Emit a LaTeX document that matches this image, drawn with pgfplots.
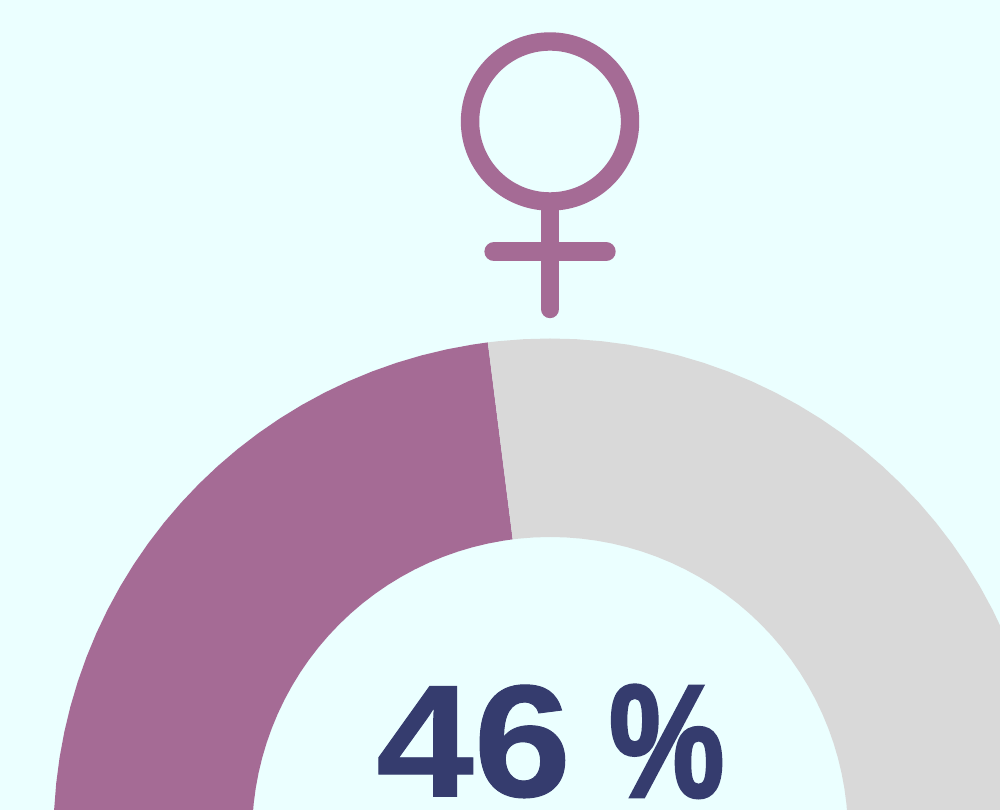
\documentclass[border=0pt]{standalone}
\usepackage{pgfplots}
\pgfplotsset{compat=1.18}
\usepackage{fontspec}
\setmainfont{Liberation Sans}
\newfontfamily\numfont[BoldFont={*},BoldFeatures={FakeBold=0.6}]{Liberation Sans Bold}
\newfontfamily\pctfont[BoldFont={*},BoldFeatures={FakeBold=2.2}]{Liberation Sans Bold}
\definecolor{bgc}{HTML}{EBFFFF}
\definecolor{mauve}{HTML}{A56B95}
\definecolor{restc}{HTML}{D9D9D9}
\definecolor{navy}{HTML}{353C6E}
\begin{document}
\begin{tikzpicture}
\useasboundingbox (0,0) rectangle (1000pt,810pt);
\fill[bgc] (0,0) rectangle (1000pt,810pt);
\begin{axis}[
  at={(0,0)},anchor=south west,
  scale only axis,width=1000pt,height=810pt,
  xmin=-550,xmax=450,ymin=25,ymax=835,
  hide axis,clip=true,
]
% 46 % of a half ring: angle 180 - 0.46*180 = 97.2
\addplot[data cs=polar,fill=mauve,draw=none,mark=none] coordinates {
(180,496.5)(177,496.5)(174,496.5)(171,496.5)(168,496.5)(165,496.5)(162,496.5)(159,496.5)(156,496.5)(153,496.5)
(150,496.5)(147,496.5)(144,496.5)(141,496.5)(138,496.5)(135,496.5)(132,496.5)(129,496.5)(126,496.5)(123,496.5)
(120,496.5)(117,496.5)(114,496.5)(111,496.5)(108,496.5)(105,496.5)(102,496.5)(99,496.5)(97.2,496.5)
(97.2,298)(99,298)(102,298)(105,298)(108,298)(111,298)(114,298)(117,298)(120,298)(123,298)
(126,298)(129,298)(132,298)(135,298)(138,298)(141,298)(144,298)(147,298)(150,298)(153,298)
(156,298)(159,298)(162,298)(165,298)(168,298)(171,298)(174,298)(177,298)(180,298)
} -- cycle;
\addplot[data cs=polar,fill=restc,draw=none,mark=none] coordinates {
(97.2,496.5)(96,496.5)(93,496.5)(90,496.5)(87,496.5)(84,496.5)(81,496.5)(78,496.5)(75,496.5)(72,496.5)(69,496.5)
(66,496.5)(63,496.5)(60,496.5)(57,496.5)(54,496.5)(51,496.5)(48,496.5)(45,496.5)(42,496.5)(39,496.5)(36,496.5)
(33,496.5)(30,496.5)(27,496.5)(24,496.5)(21,496.5)(18,496.5)(15,496.5)(12,496.5)(9,496.5)(6,496.5)(3,496.5)(0,496.5)
(0,298)(3,298)(6,298)(9,298)(12,298)(15,298)(18,298)(21,298)(24,298)(27,298)(30,298)(33,298)
(36,298)(39,298)(42,298)(45,298)(48,298)(51,298)(54,298)(57,298)(60,298)(63,298)(66,298)
(69,298)(72,298)(75,298)(78,298)(81,298)(84,298)(87,298)(90,298)(93,298)(96,298)(97.2,298)
} -- cycle;
\node[anchor=base west,inner sep=0pt,text=navy,font=\fontsize{160}{161}\selectfont]
  at (axis cs:-174,38.5) {\scalebox{1.095}[1]{\numfont\bfseries 46}\hspace*{38pt}\scalebox{0.81}[1]{\pctfont\bfseries\%}};
\draw[mauve,line width=18.4pt] (axis cs:0,713.5) circle[radius=80pt];
\draw[mauve,line width=18.4pt,line cap=round] (axis cs:0,627) -- (axis cs:0,526);
\draw[mauve,line width=19.3pt,line cap=round] (axis cs:-56,583.3) -- (axis cs:56,583.3);
\end{axis}
\end{tikzpicture}
\end{document}
